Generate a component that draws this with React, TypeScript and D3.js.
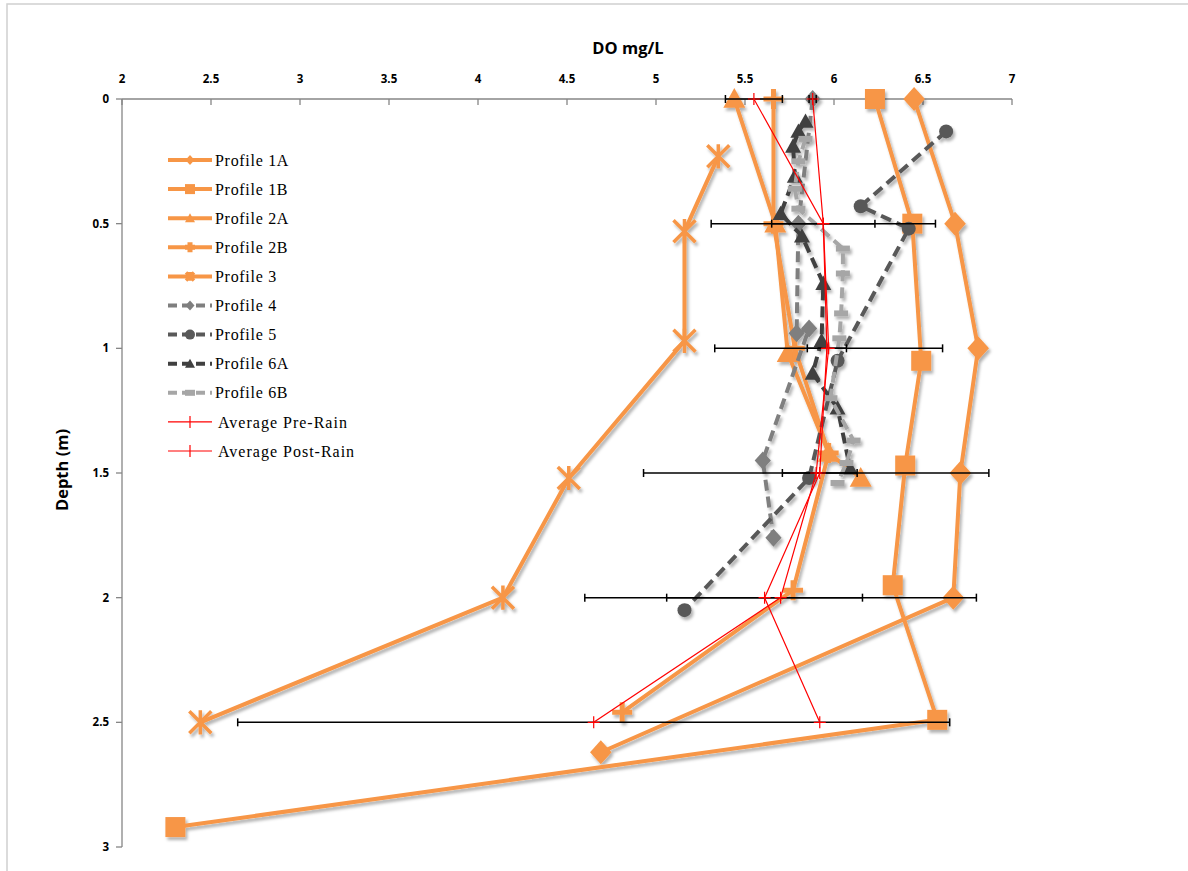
import React from 'react';
import * as d3 from 'd3';

// depth (m) / DO (mg/L) pairs
const p1aDepth = [0, 0.5, 1, 1.5, 2, 2.62];
const p1aDO = [6.45, 6.68, 6.81, 6.71, 6.67, 4.69];
const p1bDepth = [0, 0.5, 1.05, 1.47, 1.95, 2.49, 2.92];
const p1bDO = [6.23, 6.44, 6.49, 6.4, 6.33, 6.58, 2.3];
const p2aDepth = [0, 0.5, 1.02, 1.42, 1.52];
const p2aDO = [5.44, 5.67, 5.74, 5.97, 6.15];
const p2bDepth = [0, 0.5, 1.0, 1.42, 1.97, 2.46];
const p2bDO = [5.66, 5.66, 5.78, 5.97, 5.77, 4.81];
const p3Depth = [0.23, 0.53, 0.97, 1.52, 2.0, 2.5];
const p3DO = [5.35, 5.16, 5.16, 4.51, 4.14, 2.44];
const p4Depth = [0, 0.5, 0.94, 0.92, 1.45, 1.76];
const p4DO = [5.88, 5.8, 5.79, 5.86, 5.6, 5.66];
const p5Depth = [0.13, 0.43, 0.52, 1.05, 1.52, 2.05];
const p5DO = [6.63, 6.15, 6.42, 6.02, 5.86, 5.16];
const p6aDepth = [0.09, 0.13, 0.19, 0.31, 0.46, 0.55, 0.74, 0.97, 1.1, 1.24, 1.48];
const p6aDO = [5.84, 5.8, 5.77, 5.78, 5.7, 5.82, 5.94, 5.93, 5.88, 6.02, 6.09];
const p6bDepth = [0.16, 0.25, 0.36, 0.44, 0.6, 0.7, 0.86, 0.96, 1.2, 1.37, 1.46, 1.54];
const p6bDO = [5.84, 5.8, 5.78, 5.8, 6.05, 6.05, 6.04, 6.03, 5.98, 6.11, 6.07, 6.02];

const avgDepth = [0, 0.5, 1, 1.5, 2, 2.5];
const preDO = [5.55, 5.94, 5.97, 5.9, 5.7, 4.65];
const preErr = [0.16, 0.63, 0.64, 0.97, 1.1, 2.0];
const postDO = [5.88, 5.94, 5.96, 5.92, 5.61, 5.92];
const postErr = [0.02, 0.29, 0.11, 0.21, 0.55, 0];

const xTicks = [2, 2.5, 3, 3.5, 4, 4.5, 5, 5.5, 6, 6.5, 7];
const yTicks = [0, 0.5, 1, 1.5, 2, 2.5, 3];

const ORANGE = '#f79646';

type Series = {
  name: string;
  depth: number[];
  val: number[];
  color: string;
  marker: string;
  size: number;
  dash?: string;
  width: number;
};

const series: Series[] = [
  { name: 'Profile 1A', depth: p1aDepth, val: p1aDO, color: ORANGE, marker: 'diamond', size: 12, width: 4 },
  { name: 'Profile 1B', depth: p1bDepth, val: p1bDO, color: ORANGE, marker: 'square', size: 10, width: 4 },
  { name: 'Profile 2A', depth: p2aDepth, val: p2aDO, color: ORANGE, marker: 'triangle', size: 11, width: 4 },
  { name: 'Profile 2B', depth: p2bDepth, val: p2bDO, color: ORANGE, marker: 'plus', size: 10, width: 4 },
  { name: 'Profile 3', depth: p3Depth, val: p3DO, color: ORANGE, marker: 'star', size: 11, width: 4 },
  { name: 'Profile 4', depth: p4Depth, val: p4DO, color: '#7f7f7f', marker: 'diamond', size: 9, dash: '11 6', width: 4 },
  { name: 'Profile 5', depth: p5Depth, val: p5DO, color: '#595959', marker: 'circle', size: 7, dash: '11 6', width: 4 },
  { name: 'Profile 6A', depth: p6aDepth, val: p6aDO, color: '#404040', marker: 'triangle', size: 8, dash: '11 6', width: 4 },
  { name: 'Profile 6B', depth: p6bDepth, val: p6bDO, color: '#a6a6a6', marker: 'dash', size: 7, dash: '11 6', width: 4 },
];

const x = d3.scaleLinear().domain([2, 7]).range([122, 1012]);
const y = d3.scaleLinear().domain([0, 3]).range([99, 847]);

function Marker({ kind, cx, cy, s, color }: { kind: string; cx: number; cy: number; s: number; color: string }) {
  if (kind === 'diamond')
    return <path d={`M${cx},${cy - s}L${cx + s * 0.9},${cy}L${cx},${cy + s}L${cx - s * 0.9},${cy}Z`} fill={color} />;
  if (kind === 'square') return <rect x={cx - s} y={cy - s} width={2 * s} height={2 * s} fill={color} />;
  if (kind === 'triangle')
    return <path d={`M${cx},${cy - s}L${cx + s},${cy + s * 0.8}L${cx - s},${cy + s * 0.8}Z`} fill={color} />;
  if (kind === 'circle') return <circle cx={cx} cy={cy} r={s} fill={color} />;
  if (kind === 'dash') return <rect x={cx - s} y={cy - 3} width={2 * s} height={6} fill={color} />;
  if (kind === 'plus')
    return (
      <path d={`M${cx - s},${cy}H${cx + s}M${cx},${cy - s}V${cy + s}`} stroke={color} strokeWidth={5} fill="none" />
    );
  if (kind === 'star')
    return (
      <path
        d={`M${cx - s},${cy - s}L${cx + s},${cy + s}M${cx - s},${cy + s}L${cx + s},${cy - s}M${cx},${cy - s * 1.1}V${cy + s * 1.1}`}
        stroke={color}
        strokeWidth={3.5}
        fill="none"
      />
    );
  return null;
}

export default function App() {
  const line = d3
    .line<[number, number]>()
    .x((d) => x(d[1]))
    .y((d) => y(d[0]));

  const zip = (a: number[], b: number[]) => a.map((d, i) => [d, b[i]] as [number, number]);

  const legendY = (i: number) => 160 + i * 29.1;

  const errBars = (vals: number[], errs: number[]) =>
    avgDepth.map((d, i) => {
      if (!errs[i]) return null;
      const yy = y(d);
      const x0 = x(vals[i] - errs[i]);
      const x1 = x(vals[i] + errs[i]);
      return (
        <g key={i} stroke="#000" strokeWidth={1.5}>
          <line x1={x0} x2={x1} y1={yy} y2={yy} />
          <line x1={x0} x2={x0} y1={yy - 4} y2={yy + 4} />
          <line x1={x1} x2={x1} y1={yy - 4} y2={yy + 4} />
        </g>
      );
    });

  const redSeries = (vals: number[]) => (
    <g>
      <path d={line(zip(avgDepth, vals)) || ''} fill="none" stroke="#ff0000" strokeWidth={1.2} />
      {avgDepth.map((d, i) => (
        <path
          key={i}
          d={`M${x(vals[i]) - 6},${y(d)}H${x(vals[i]) + 6}M${x(vals[i])},${y(d) - 6}V${y(d) + 6}`}
          stroke="#ff0000"
          strokeWidth={1.2}
        />
      ))}
    </g>
  );

  return (
    <svg
      width={1188}
      height={871}
      style={{ position: 'absolute', left: 0, top: 0, background: '#fff' }}
      fontFamily="'Open Sans', sans-serif"
    >
      <defs>
        <filter id="shadow" x="-10%" y="-10%" width="120%" height="120%">
          <feDropShadow dx="2" dy="3" stdDeviation="1.5" floodColor="#000" floodOpacity="0.3" />
        </filter>
      </defs>
      <rect x={7} y={4} width={1200} height={900} fill="#fff" stroke="#d0d0d0" strokeWidth={1.5} />

      {/* axes */}
      <line x1={x(2)} x2={x(7)} y1={y(0)} y2={y(0)} stroke="#868686" strokeWidth={1.3} />
      <line x1={x(2)} x2={x(2)} y1={y(0)} y2={y(3)} stroke="#868686" strokeWidth={1.3} />
      {xTicks.map((t) => (
        <g key={t}>
          <line x1={x(t)} x2={x(t)} y1={y(0)} y2={y(0) + 6} stroke="#868686" strokeWidth={1.3} />
          <text x={x(t)} y={y(0) - 16} textAnchor="middle" fontSize={11.5} fontWeight="bold" fill="#000">
            {t}
          </text>
        </g>
      ))}
      {yTicks.map((t) => (
        <g key={t}>
          <line x1={x(2) - 6} x2={x(2)} y1={y(t)} y2={y(t)} stroke="#868686" strokeWidth={1.3} />
          <text x={x(2) - 13} y={y(t)} dy="0.35em" textAnchor="end" fontSize={11.5} fontWeight="bold" fill="#000">
            {t}
          </text>
        </g>
      ))}
      <text x={628} y={54} textAnchor="middle" fontSize={16.5} fontWeight="bold">
        DO mg/L
      </text>
      <text transform="translate(68,470) rotate(-90)" textAnchor="middle" fontSize={16.5} fontWeight="bold">
        Depth (m)
      </text>

      {/* profiles */}
      <g filter="url(#shadow)">
        {series.map((s) => (
          <g key={s.name}>
            <path
              d={line(zip(s.depth, s.val)) || ''}
              fill="none"
              stroke={s.color}
              strokeWidth={s.width}
              strokeDasharray={s.dash}
              strokeLinejoin="round"
            />
            {s.depth.map((d, i) => (
              <Marker key={i} kind={s.marker} cx={x(s.val[i])} cy={y(d)} s={s.size} color={s.color} />
            ))}
          </g>
        ))}
      </g>

      {/* averages with error bars */}
      {errBars(preDO, preErr)}
      {errBars(postDO, postErr)}
      {redSeries(preDO)}
      {redSeries(postDO)}

      {/* legend */}
      <g fontFamily="'Liberation Serif', 'Times New Roman', serif" fontSize={16}>
        {series.map((s, i) => {
          const ly = legendY(i);
          return (
            <g key={s.name}>
              <line
                x1={168}
                x2={212}
                y1={ly}
                y2={ly}
                stroke={s.color}
                strokeWidth={s.width}
                strokeDasharray={s.dash ? '9 5' : undefined}
              />
              <Marker kind={s.marker} cx={190} cy={ly} s={s.marker === 'star' ? 4 : 5} color={s.color} />
              <text x={215} y={ly} dy="0.35em" letterSpacing={0.7}>
                {s.name}
              </text>
            </g>
          );
        })}
        {['Average Pre-Rain', 'Average Post-Rain'].map((n, j) => {
          const ly = legendY(series.length + j);
          return (
            <g key={n}>
              <line x1={168} x2={212} y1={ly} y2={ly} stroke="#ff0000" strokeWidth={1.2} />
              <line x1={190} x2={190} y1={ly - 6} y2={ly + 6} stroke="#ff0000" strokeWidth={1.2} />
              <text x={218} y={ly} dy="0.35em" letterSpacing={1}>
                {n}
              </text>
            </g>
          );
        })}
      </g>
    </svg>
  );
}
